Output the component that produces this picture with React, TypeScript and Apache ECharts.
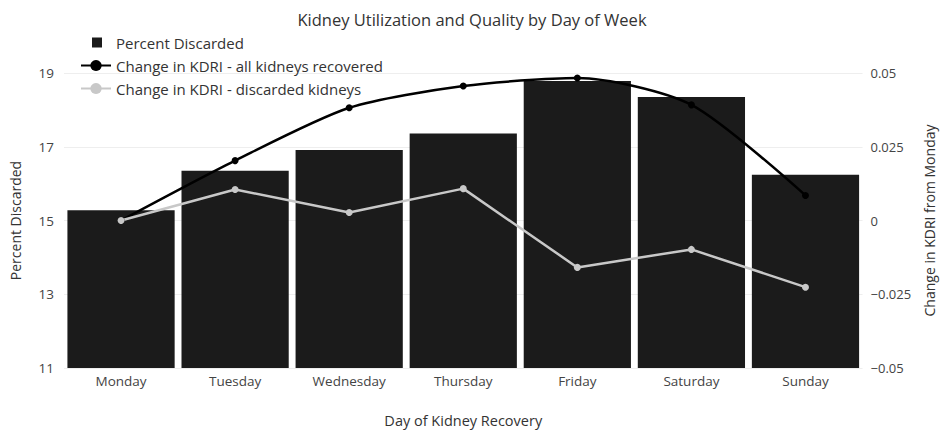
import React, { useEffect, useRef } from "react";
import * as echarts from "echarts";

const days = ["Monday", "Tuesday", "Wednesday", "Thursday", "Friday", "Saturday", "Sunday"];
const percentDiscarded = [15.28, 16.35, 16.91, 17.36, 18.78, 18.35, 16.24];
const kdriAll = [0, 0.0203, 0.0382, 0.0456, 0.0483, 0.0392, 0.0085];
const kdriDiscarded = [0, 0.0105, 0.0027, 0.0108, -0.0159, -0.0098, -0.0226];

const FONT = "'Open Sans', sans-serif";

export default function App() {
  const ref = useRef<HTMLDivElement>(null);
  useEffect(() => {
    if (!ref.current) return;
    const chart = echarts.init(ref.current, null, { renderer: "svg" });
    chart.setOption({
      animation: false,
      backgroundColor: "#ffffff",
      textStyle: { fontFamily: FONT },
      title: {
        text: "Kidney Utilization and Quality by Day of Week",
        left: "center",
        top: 6,
        textStyle: { fontFamily: FONT, fontSize: 16.5, fontWeight: "normal", color: "#333" },
      },
      legend: {
        orient: "vertical",
        left: 75,
        top: 30,
        itemGap: 8,
        itemWidth: 30,
        itemHeight: 14,
        textStyle: { fontFamily: FONT, fontSize: 15, color: "#333" },
        data: [
          { name: "Percent Discarded", icon: "path://M0,0 M30,14 M11,2 L21,2 L21,12 L11,12 Z" },
          "Change in KDRI - all kidneys recovered",
          "Change in KDRI - discarded kidneys",
        ],
      },
      grid: { left: 64, right: 64, top: 73, bottom: 64 },
      xAxis: {
        type: "category",
        data: days,
        axisLine: { show: false },
        axisTick: { show: false },
        axisLabel: { fontFamily: FONT, fontSize: 13.5, color: "#444", margin: 6 },
        name: "Day of Kidney Recovery",
        nameLocation: "middle",
        nameGap: 45,
        nameTextStyle: { fontFamily: FONT, fontSize: 14.5, color: "#333" },
      },
      yAxis: [
        {
          type: "value",
          min: 11,
          max: 19,
          interval: 2,
          axisLine: { show: false },
          axisTick: { show: false },
          axisLabel: { fontFamily: FONT, fontSize: 13.5, color: "#444", margin: 10 },
          splitLine: { lineStyle: { color: "#eeeeee", width: 1 } },
          name: "Percent Discarded",
          nameLocation: "middle",
          nameGap: 42,
          nameTextStyle: { fontFamily: FONT, fontSize: 14, color: "#333" },
        },
        {
          type: "value",
          min: -0.05,
          max: 0.05,
          interval: 0.025,
          axisLine: { show: false },
          axisTick: { show: false },
          splitLine: { show: false },
          axisLabel: {
            fontFamily: FONT,
            fontSize: 13,
            color: "#444",
            margin: 8,
            formatter: (v: number) => {
              const r = Math.round(v * 1000) / 1000;
              return r === 0 ? "0" : String(r).replace("-", "\u2212");
            },
          },
          name: "Change in KDRI from Monday",
          nameLocation: "middle",
          nameGap: 56,
          nameTextStyle: { fontFamily: FONT, fontSize: 14, color: "#333" },
        },
      ],
      series: [
        {
          name: "Percent Discarded",
          type: "bar",
          data: percentDiscarded,
          yAxisIndex: 0,
          barCategoryGap: "6%",
          itemStyle: { color: "#1b1b1b" },
          z: 1,
        },
        {
          name: "Change in KDRI - all kidneys recovered",
          type: "line",
          data: kdriAll,
          yAxisIndex: 1,
          smooth: 0.25,
          symbol: "circle",
          symbolSize: 7,
          lineStyle: { color: "#000000", width: 2.5 },
          itemStyle: { color: "#000000" },
          z: 3,
        },
        {
          name: "Change in KDRI - discarded kidneys",
          type: "line",
          data: kdriDiscarded,
          yAxisIndex: 1,
          symbol: "circle",
          symbolSize: 7,
          lineStyle: { color: "#c8c8c8", width: 2.5 },
          itemStyle: { color: "#c8c8c8" },
          z: 3,
        },
      ],
    });
    return () => chart.dispose();
  }, []);
  return <div ref={ref} style={{ width: 944, height: 433, position: "absolute", left: 0, top: 0 }} />;
}
